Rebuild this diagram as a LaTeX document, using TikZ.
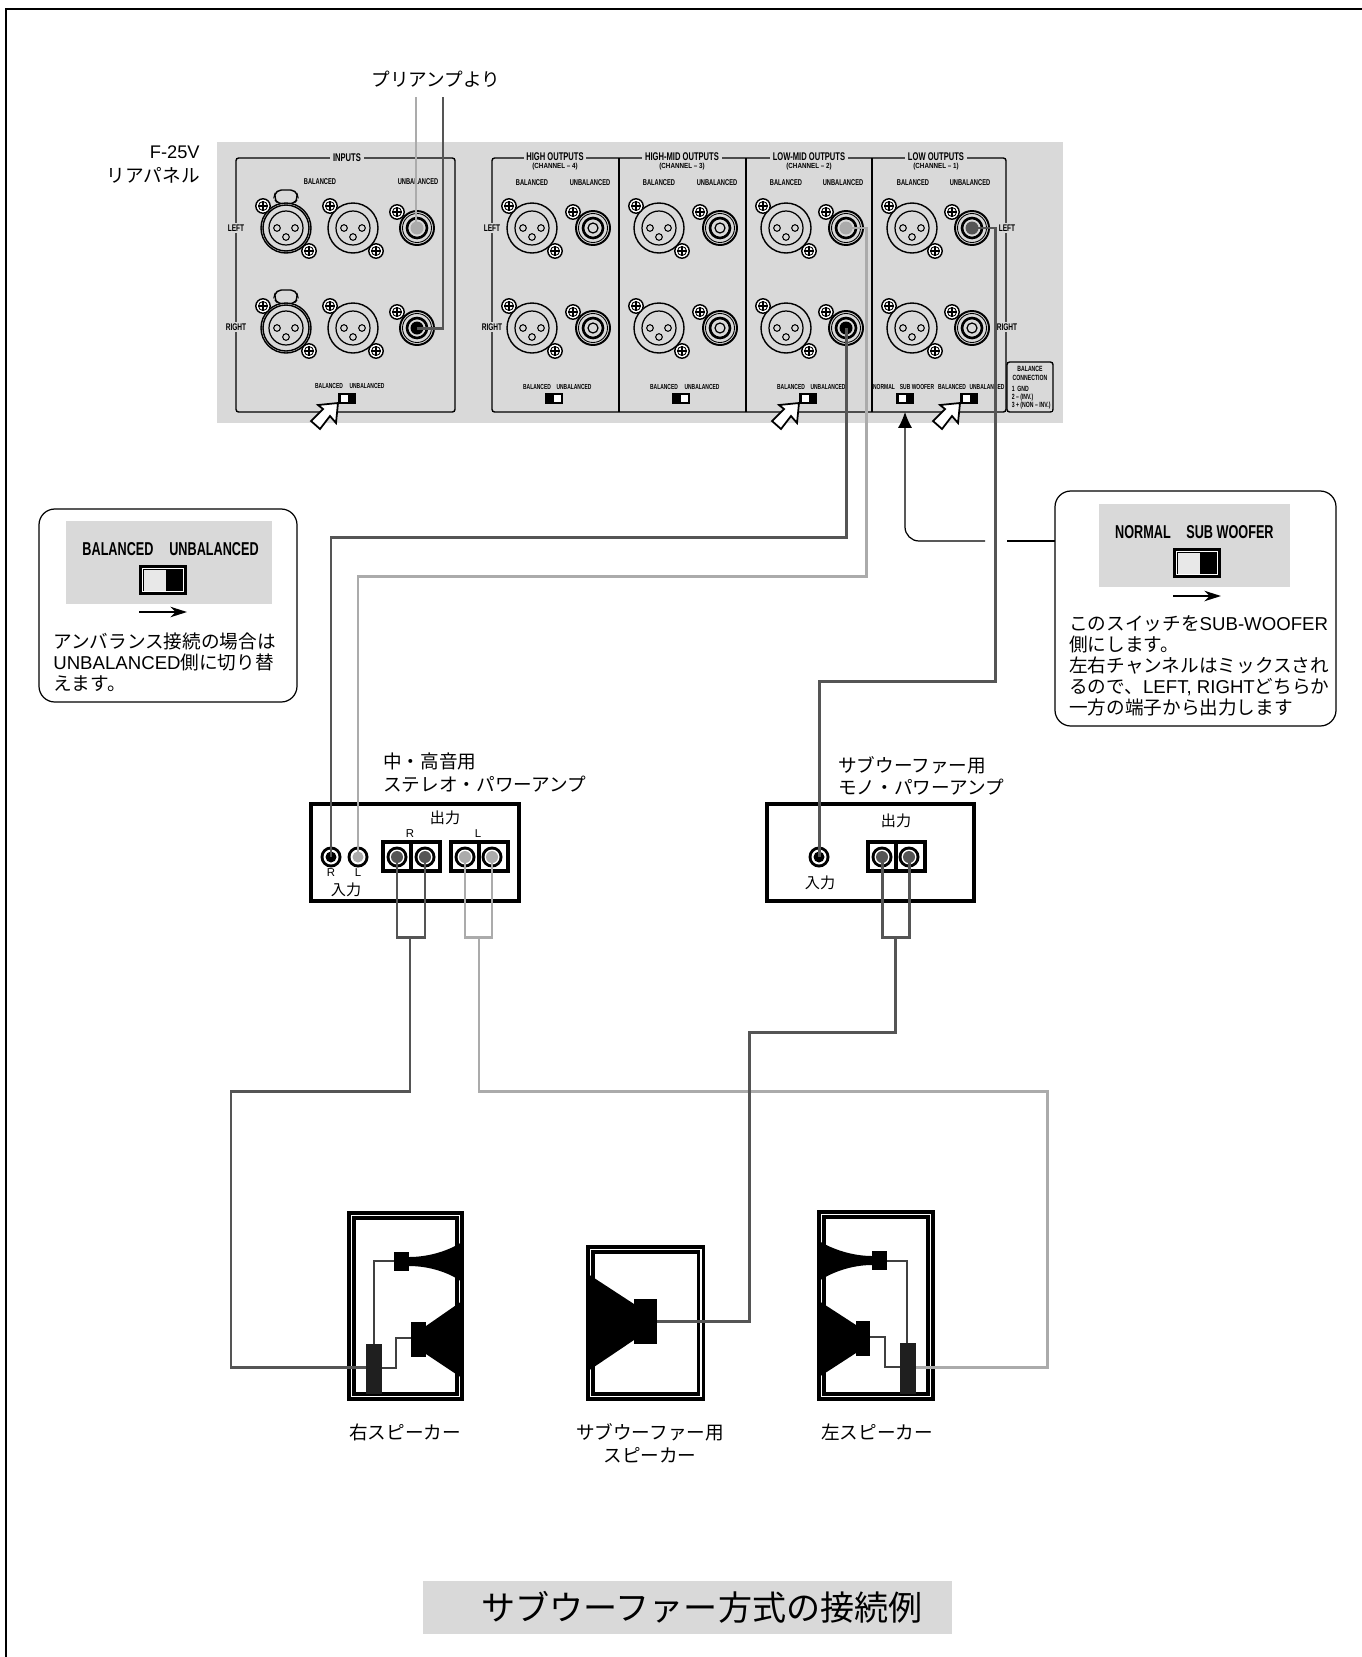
\documentclass[tikz,border=0pt]{standalone}
\usepackage{fontspec}
\setmainfont{Liberation Sans}
\newfontfamily\jp{Noto Sans CJK JP}
\newfontfamily\panelfont{Liberation Sans}[FakeStretch=0.68]
\newfontfamily\chanfont{Liberation Sans}[FakeStretch=0.85]
\newcommand{\lat}[1]{{\rmfamily #1}}
\usetikzlibrary{arrows.meta}
\definecolor{panelgray}{HTML}{D9D9D9}
\definecolor{cableDark}{HTML}{555555}
\definecolor{cableLight}{HTML}{ABABAB}
\tikzset{
  panellabel/.style={font=\panelfont\bfseries\fontsize{4.8}{5}\selectfont, fill=panelgray, inner sep=0.8pt},
  switchlabel/.style={font=\panelfont\bfseries\fontsize{4.15}{5}\selectfont, inner sep=0pt},
  paneltitle/.style={font=\panelfont\bfseries\fontsize{6.35}{7}\selectfont, fill=panelgray, inner sep=1.5pt},
  panelsub/.style={font=\chanfont\bfseries\fontsize{4.2}{5}\selectfont, inner sep=0pt},
  biglabel/.style={font=\panelfont\bfseries\fontsize{10.6}{12}\selectfont, inner sep=0pt},
  jplabel/.style={font=\jp\fontsize{10.6}{12.2}\selectfont, inner sep=0pt},
  jpsmall/.style={font=\jp\fontsize{8.6}{10}\selectfont, inner sep=0pt},
  amplabel/.style={font=\fontsize{6.5}{8}\selectfont, inner sep=0pt},
  frameline/.style={line width=0.8pt, rounded corners=1.5pt},
  cabledark/.style={draw=cableDark, line width=1.7pt},
  cablelight/.style={draw=cableLight, line width=1.7pt},
  wire/.style={draw=black!75, line width=0.6pt},
  ampbox/.style={draw=black, line width=1.8pt},
  bubble/.style={draw=black, line width=0.7pt, rounded corners=9pt},
  % ── panel hardware ──
  screw/.pic={
    \draw[fill=white, line width=0.8pt] (0,0) circle (7.2);
    \draw[line width=0.5pt] (0,0) circle (4.5);
    \draw[line width=0.6pt] (-5,0) -- (5,0) (0,-5) -- (0,5);
  },
  xlrjack/.pic={
    \draw[line width=0.8pt] (0,0) circle (25);
    \draw[line width=0.7pt] (0,0) circle (17);
    \foreach \dx/\dy in {-9/0, 9/0, 0/9}
      \draw[line width=0.6pt] (\dx,\dy) circle (3.3);
    \pic at (-23,-22) {screw};
    \pic at (23,23) {screw};
  },
  lockjack/.pic={
    \draw[line width=0.8pt, rounded corners=3pt] (-8,-24) -- (-12,-30) -- (-10,-38) -- (10,-38) -- (12,-30) -- (8,-24) -- cycle;
    \draw[line width=0.8pt, fill=panelgray] (0,0) circle (25);
    \draw[line width=0.8pt] (0,0) circle (23);
    \draw[line width=0.7pt] (0,0) circle (17);
    \foreach \dx/\dy in {-9/0, 9/0, 0/9}
      \draw[line width=0.6pt] (\dx,\dy) circle (3.3);
    \pic at (-23,-22) {screw};
    \pic at (23,23) {screw};
  },
  rcajack/.pic={
    \draw[line width=1.1pt] (0,0) circle (17);
    \draw[line width=0.5pt] (0,0) circle (14.5);
    \draw[line width=1.5pt] (0,0) circle (10);
    \pic at (-20,-16) {screw};
  },
  panelswitch/.pic={
    \fill[black] (-9,-5.5) rectangle (9,5.5);
    \fill[white] (-6.5,-3.5) rectangle (0.5,3.5);
  },
  bigswitch/.pic={
    \fill[black] (-24,-15) rectangle (24,15);
    \draw[white, line width=0.4pt] (-20.5,-11.5) rectangle (20.5,11.5);
    \fill[panelgray!60!white] (-19.5,-10.5) rectangle (3,10.5);
  },
  whitearrow/.pic={
    \draw[fill=white, line width=1pt, line join=miter] (0,0) -- (-2,20) -- (-8,13) -- (-18,26) -- (-27,18) -- (-15,6) -- (-20,2) -- cycle;
  },
}
\begin{document}
\begin{tikzpicture}[x=0.02cm, y=-0.02cm]
  \useasboundingbox (0,0) rectangle (1362,1657);

  % ── Sheet edge ───────────────────────────────────────────────────
  \draw[line width=0.9pt] (6,1657) -- (6,9) -- (1362,9);

  % ── Rear panel ───────────────────────────────────────────────────
  \fill[panelgray] (217,142) rectangle (1063,423);
  \draw[frameline] (236,158) rectangle (455,412);
  \draw[frameline] (492,158) rectangle (1006,412);
  \foreach \x in {619,746,872}
    \draw[line width=0.8pt] (\x,158) -- (\x,412);

  \node[jplabel, anchor=east, font=\fontsize{10.4}{12}\selectfont] (panelName) at (200,152) {F-25V};
  \node[jplabel, anchor=east] (panelSub) at (200,175) {リアパネル};
  \node[jplabel] (preampLabel) at (436,79) {プリアンプより};

  \node[paneltitle] (ttlInputs) at (347,158) {INPUTS};
  \foreach \n/\x/\t/\c in {a/555/HIGH OUTPUTS/4, b/682/HIGH-MID OUTPUTS/3, c/809/LOW-MID OUTPUTS/2, d/936/LOW OUTPUTS/1} {
    \node[paneltitle] (ttl\n) at (\x,157) {\t};
    \node[panelsub] (chan\n) at (\x,166.5) {(CHANNEL – \c)};
  }
  \foreach \n/\x/\y/\t in {a/320/182/BALANCED, b/418/182/UNBALANCED, c/532/183/BALANCED, d/590/183/UNBALANCED,
      e/659/183/BALANCED, f/717/183/UNBALANCED, g/786/183/BALANCED, h/843/183/UNBALANCED,
      i/913/183/BALANCED, j/970/183/UNBALANCED}
    \node[panellabel] (lbl\n) at (\x,\y) {\t};
  \foreach \n/\x/\y/\t in {k/329/386/BALANCED, l/367/386/UNBALANCED,
      m/537/387/BALANCED, o/574/387/UNBALANCED, p/664/387/BALANCED, q/702/387/UNBALANCED,
      r/791/387/BALANCED, s/828/387/UNBALANCED, t/884/387/NORMAL, u/917/387/SUB WOOFER,
      v/952/387/BALANCED, w/987/387/UNBALANCED}
    \node[switchlabel] (lbl\n) at (\x,\y) {\t};
  \foreach \n/\x in {a/236, b/492, c/1007}
    \foreach \m/\y/\t in {l/228/LEFT, r/327/RIGHT}
      \node[panellabel, font=\panelfont\bfseries\fontsize{5.5}{6}\selectfont] (side\n\m) at (\x,\y) {\t};

  % XLR and RCA sockets
  \foreach \x/\y in {353/228, 353/328, 532/228, 532/328, 659/228, 659/328, 786/228, 786/328, 912/228, 912/328}
    \pic at (\x,\y) {xlrjack};
  \foreach \y in {228,328}
    \pic at (286,\y) {lockjack};
  \foreach \x/\y in {417/228, 417/328, 593/228, 593/328, 720/228, 720/328, 846/228, 846/328, 972/228, 972/328}
    \pic at (\x,\y) {rcajack};
  \foreach \x/\y in {593/228, 593/328, 720/228, 720/328, 972/328}
    \draw[line width=0.7pt] (\x,\y) circle (5);
  \foreach \x/\y/\c in {417/228/cableLight, 417/328/black, 846/228/cableLight, 846/328/black, 972/228/cableDark}
    \fill[\c] (\x,\y) circle (6.5);

  % switches
  \foreach \x in {347,808,905,969}
    \pic at (\x,398) {panelswitch};
  \foreach \x in {554,681}
    \pic[xscale=-1] at (\x,398.5) {panelswitch};

  % balance connection note
  \draw[frameline, fill=panelgray] (1007,362) rectangle (1053,412);
  \node[panellabel, font=\panelfont\bfseries\fontsize{4.3}{5}\selectfont, align=center] (balNote) at (1030,373) {BALANCE\\CONNECTION};
  \foreach \n/\y/\t in {a/389/1\ \ GND, b/398/2 – (INV.), c/406/3 + (NON – INV.)}
    \node[panellabel, anchor=west, font=\panelfont\bfseries\fontsize{4.3}{5}\selectfont] (balPin\n) at (1010,\y) {\t};

  % ── Cable ends ───────────────────────────────────────────────────
  \coordinate (preampL) at (416,97);
  \coordinate (preampR) at (443,97);
  \coordinate (rcaInL) at (416,228);
  \coordinate (rcaInR) at (417,328);
  \coordinate (rcaMidL) at (846,228);
  \coordinate (rcaMidR) at (846,328);
  \coordinate (rcaLow) at (972,228);
  \coordinate (bendMidR) at (331,537);
  \coordinate (bendMidLa) at (866,576);
  \coordinate (bendMidLb) at (358,576);
  \coordinate (bendLowa) at (995,681);
  \coordinate (bendLowb) at (819,681);
  \coordinate (stereoInR) at (331,857);
  \coordinate (stereoInL) at (358,857);
  \coordinate (monoIn) at (819,857);

  % ── Power amplifiers ─────────────────────────────────────────────
  \draw[ampbox] (311,804) rectangle (519,901);
  \draw[ampbox] (767,804) rectangle (974,901);
  \foreach \xa/\xb/\xc in {383/411/440, 451/479/508, 868/896/925} {
    \draw[ampbox] (\xa,842) rectangle (\xc,871);
    \draw[ampbox] (\xb,842) -- (\xb,871);
  }
  \node[jpsmall] (stereoOut) at (445,818) {出力};
  \node[amplabel] (stereoOutR) at (410,834) {R};
  \node[amplabel] (stereoOutL) at (478,834) {L};
  \node[amplabel] (stereoInRlbl) at (331,873) {R};
  \node[amplabel] (stereoInLlbl) at (358,873) {L};
  \node[jpsmall] (stereoInput) at (346,890) {入力};
  \node[jpsmall] (monoOut) at (896,821) {出力};
  \node[jpsmall] (monoInput) at (820,883) {入力};
  \node[jplabel, anchor=west] (stereoTitleA) at (383,761) {中・高音用};
  \node[jplabel, anchor=west] (stereoTitleB) at (383,784) {ステレオ・パワーアンプ};
  \node[jplabel, anchor=west] (monoTitleA) at (838,765) {サブウーファー用};
  \node[jplabel, anchor=west] (monoTitleB) at (838,787) {モノ・パワーアンプ};

  \foreach \x/\c in {331/black, 358/cableLight, 819/black} {
    \fill (\x,857) circle (10.5);
    \fill[white] (\x,857) circle (7.5);
    \fill[\c] (\x,857) circle (5.5);
  }
  \foreach \x/\c in {397/cableDark, 425/cableDark, 465/cableLight, 492/cableLight, 882/cableDark, 909/cableDark} {
    \fill (\x,857) circle (10.5);
    \fill[white] (\x,857) circle (7.5);
    \fill[\c] (\x,857) circle (6);
  }

  % ── Speakers ─────────────────────────────────────────────────────
  \foreach \l/\t/\r in {349/1213/462, 588/1247/703.5, 819/1212/933} {
    \draw[line width=2pt] (\l,\t) rectangle (\r,1399);
    \draw[line width=2pt] (\l+5,\t+5) rectangle (\r-5,1394);
  }
  % right speaker
  \fill (394,1252) rectangle (409,1271);
  \fill (409,1257) .. controls (430,1257) and (450,1250) .. (462,1242) -- (462,1282) .. controls (450,1273) and (430,1266) .. (409,1266) -- cycle;
  \fill (411,1322) rectangle (426,1357);
  \fill (426,1326) -- (462,1301) -- (462,1378) -- (426,1354) -- cycle;
  \fill[black!88] (366,1344) rectangle (382,1394);
  \coordinate (rTerm) at (366,1367);
  \coordinate (rTermTop) at (374,1344);
  \coordinate (rTermSide) at (382,1368);
  \coordinate (rTweet) at (394,1261);
  \coordinate (rWoof) at (411,1338);
  \coordinate (rWoofTurn) at (396,1368);
  \draw[wire] (rTermTop) |- (rTweet);
  \draw[wire] (rTermSide) -- (rWoofTurn) |- (rWoof);
  % subwoofer
  \fill (634,1299) rectangle (657,1344);
  \fill (634,1304) -- (588,1274) -- (588,1371) -- (634,1340) -- cycle;
  \coordinate (subIn) at (657,1321);
  % left speaker
  \fill (872,1251) rectangle (887,1270);
  \fill (872,1256) .. controls (852,1256) and (832,1249) .. (819,1241) -- (819,1281) .. controls (832,1272) and (852,1265) .. (872,1265) -- cycle;
  \fill (856,1321) rectangle (870,1356);
  \fill (856,1325) -- (819,1301) -- (819,1377) -- (856,1353) -- cycle;
  \fill[black!88] (900,1343) rectangle (916,1394);
  \coordinate (lTerm) at (916,1367);
  \coordinate (lTermTop) at (907,1343);
  \coordinate (lTermSide) at (900,1367);
  \coordinate (lTweet) at (887,1261);
  \coordinate (lWoof) at (870,1337);
  \coordinate (lWoofTurn) at (885,1367);
  \draw[wire] (lTermTop) |- (lTweet);
  \draw[wire] (lTermSide) -- (lWoofTurn) |- (lWoof);

  \node[jplabel] (spkR) at (405,1432) {右スピーカー};
  \node[jplabel, align=center, font=\jp\fontsize{10.6}{13}\selectfont] (spkSub) at (650,1443) {サブウーファー用\\スピーカー};
  \node[jplabel] (spkL) at (877,1432) {左スピーカー};

  % ── Cables ───────────────────────────────────────────────────────
  \draw[cablelight] (preampL) -- (rcaInL);
  \draw[cabledark] (preampR) |- (rcaInR);
  \draw[cabledark] (rcaMidR) |- (bendMidR) -- (stereoInR);
  \draw[cablelight] (rcaMidL) -| (bendMidLa) -- (bendMidLb) -- (stereoInL);
  \draw[cabledark] (rcaLow) -| (bendLowa) -- (bendLowb) -- (monoIn);

  \coordinate (tieRa) at (397,937);
  \coordinate (tieRb) at (425,937);
  \coordinate (tieR) at (410,937);
  \coordinate (runRa) at (410,1091);
  \coordinate (runRb) at (231,1091);
  \coordinate (runRc) at (231,1367);
  \coordinate (tieLa) at (465,937);
  \coordinate (tieLb) at (492,937);
  \coordinate (tieL) at (479,937);
  \coordinate (runLa) at (479,1091);
  \coordinate (runLb) at (1047,1091);
  \coordinate (runLc) at (1047,1367);
  \coordinate (tieMa) at (882,937);
  \coordinate (tieMb) at (909,937);
  \coordinate (tieM) at (895,937);
  \coordinate (runMa) at (895,1032);
  \coordinate (runMb) at (749,1032);
  \coordinate (runMc) at (749,1321);

  \draw[cabledark] (397,857) -- (tieRa) -- (tieRb) -- (425,857);
  \draw[cablelight] (465,857) -- (tieLa) -- (tieLb) -- (492,857);
  \draw[cabledark] (882,857) -- (tieMa) -- (tieMb) -- (909,857);
  \draw[cabledark] (tieR) -- (runRa) -- (runRb) -- (runRc) -- (rTerm);
  \draw[cablelight] (tieL) -- (runLa) -- (runLb) -- (runLc) -- (lTerm);
  \draw[cabledark] (tieM) -- (runMa) -- (runMb) -- (runMc) -- (subIn);

  % fat arrows on the switches
  \foreach \x in {338,799,960}
    \pic at (\x,403) {whitearrow};

  % ── Note bubbles ─────────────────────────────────────────────────
  \draw[bubble] (39,509) rectangle (297,702);
  \fill[panelgray] (66,521) rectangle (272,604);
  \node[biglabel] (noteBal) at (118,549) {BALANCED};
  \node[biglabel] (noteUnbal) at (214,549) {UNBALANCED};
  \pic at (163,580) {bigswitch};
  \coordinate (noteArrowA) at (139,612);
  \coordinate (noteArrowB) at (187,612);
  \draw[line width=0.9pt, -{Stealth[length=9.5pt,width=6pt]}] (noteArrowA) -- (noteArrowB);
  \node[jplabel, anchor=north west, align=left] (noteText) at (53,632) {アンバランス接続の場合は\\\lat{UNBALANCED}側に切り替\\えます。};

  \draw[bubble] (1055,491) rectangle (1336,726);
  \fill[panelgray] (1099,504) rectangle (1290,587);
  \node[biglabel] (subNormal) at (1143,532) {NORMAL};
  \node[biglabel] (subWoofer) at (1230,532) {SUB WOOFER};
  \pic at (1197,563) {bigswitch};
  \coordinate (subArrowA) at (1173,596);
  \coordinate (subArrowB) at (1221,596);
  \draw[line width=0.9pt, -{Stealth[length=9.5pt,width=6pt]}] (subArrowA) -- (subArrowB);
  \node[jplabel, anchor=north west, align=left, font=\jp\fontsize{10.6}{12}\selectfont] (subText) at (1069,615) {このスイッチを\lat{SUB-WOOFER}\\側にします。\\左右チャンネルはミックスされ\\るので、\lat{LEFT, RIGHT}どちらか\\一方の端子から出力します};

  % leader from the bubble to the switch
  \coordinate (leadEdge) at (1055,541);
  \coordinate (leadGapR) at (1007,541);
  \coordinate (leadGapL) at (985,541);
  \coordinate (leadCorner) at (905,541);
  \coordinate (leadTip) at (905,412);
  \draw[line width=0.7pt] (leadEdge) -- (leadGapR);
  \draw[line width=0.7pt, rounded corners=8pt, -{Latex[length=9pt,width=8pt]}] (leadGapL) -- (leadCorner) -- (leadTip);

  % ── Title ────────────────────────────────────────────────────────
  \fill[panelgray] (423,1581) rectangle (952,1634);
  \node[font=\jp\fontsize{19.4}{22}\selectfont, inner sep=0pt] (titleText) at (702,1607) {サブウーファー方式の接続例};
\end{tikzpicture}
\end{document}
